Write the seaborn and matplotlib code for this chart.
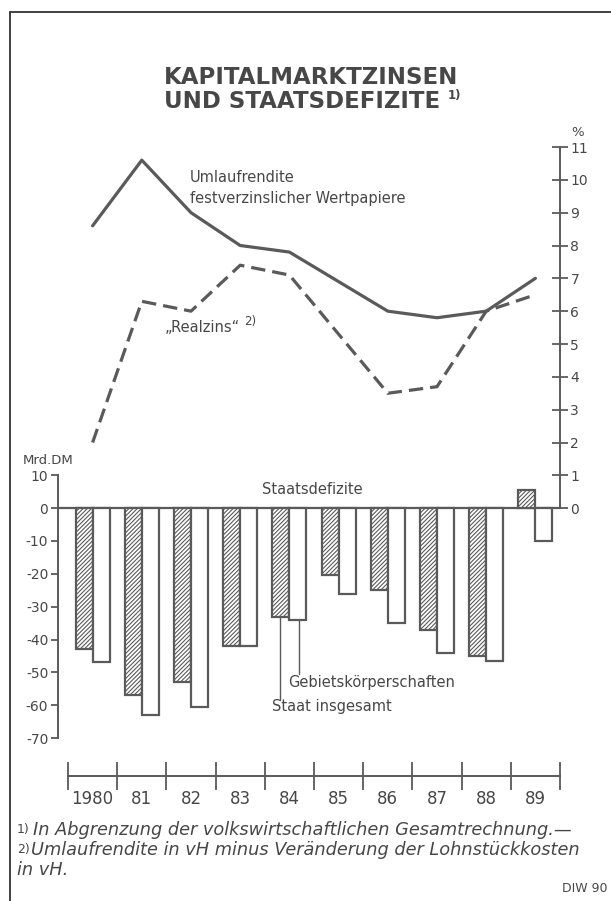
import numpy as np
import pandas as pd
import matplotlib
matplotlib.use("Agg")
import matplotlib.pyplot as plt
import seaborn as sns
from matplotlib.lines import Line2D

# ---------------- data ----------------
years = ["1980", "81", "82", "83", "84", "85", "86", "87", "88", "89"]
umlaufrendite = [8.6, 10.6, 9.0, 8.0, 7.8, 6.9, 6.0, 5.8, 6.0, 7.0]
realzins = [2.0, 6.3, 6.0, 7.4, 7.1, 5.3, 3.5, 3.7, 6.0, 6.5]
staat_insgesamt = [-43, -57, -53, -42, -33, -20.5, -25, -37, -45, 5.5]
gebietskoerperschaften = [-47, -63, -60.5, -42, -34, -26, -35, -44, -46.5, -10]
left_ticks = [-70, -60, -50, -40, -30, -20, -10, 0, 10]
right_ticks = [0, 1, 2, 3, 4, 5, 6, 7, 8, 9, 10, 11]

# ---------------- style ----------------
sns.set_style("white")
plt.rcParams["font.family"] = ["DejaVu Sans"]
plt.rcParams["hatch.linewidth"] = 0.8
GRAY = "#5a5a5a"
TXT = "#474747"

W, H = 611, 901
fig = plt.figure(figsize=(W / 100, H / 100), dpi=100)
fig.patch.set_facecolor("white")

def px_rect(x0, y0, x1, y1):
    return [x0 / W, 1 - y1 / H, (x1 - x0) / W, (y1 - y0) / H]

ax = fig.add_axes(px_rect(68, 147, 560, 738))
ax.set_facecolor("none")

df = pd.DataFrame({
    "Jahr": years * 2,
    "Reihe": ["Staat insgesamt"] * len(years) + ["Gebietskörperschaften"] * len(years),
    "Wert": staat_insgesamt + gebietskoerperschaften,
})
sns.barplot(data=df, x="Jahr", y="Wert", hue="Reihe",
            hue_order=["Staat insgesamt", "Gebietskörperschaften"],
            palette=["white", "white"], saturation=1, errorbar=None,
            width=0.69, gap=0, edgecolor=GRAY, linewidth=1.6,
            legend=False, ax=ax, zorder=3)
for bar in ax.containers[0]:
    bar.set_hatch("////////")
    bar.set_edgecolor(GRAY)

ax.set_ylim(-70, 110)
ax.set_xlim(-0.5, 9.5)
ax.set_xlabel("")
ax.set_ylabel("")

# zero line
ax.axhline(0, xmin=-10 / 492, xmax=1, color=GRAY, lw=1.6, clip_on=False, zorder=2)

# left axis
ax.spines["top"].set_visible(False)
ax.spines["right"].set_visible(False)
ax.spines["left"].set_position(("outward", 7.2))
ax.spines["left"].set_bounds(-70, 10)
ax.spines["left"].set_color(GRAY)
ax.spines["left"].set_linewidth(1.4)
ax.set_yticks(left_ticks)
ax.set_yticklabels([str(t) for t in left_ticks])
ax.tick_params(axis="y", left=True, direction="out", length=5, width=1.3, color=GRAY,
               labelsize=10, labelcolor=TXT, pad=2)

# bottom year axis
ax.spines["bottom"].set_position(("outward", 27.4))
ax.spines["bottom"].set_color(GRAY)
ax.spines["bottom"].set_linewidth(1.4)
ax.set_xticks(np.arange(-0.5, 10.0, 1.0))
ax.set_xticklabels([""] * 11)
ax.set_xticks(np.arange(len(years)), minor=True)
ax.set_xticklabels(years, minor=True)
ax.tick_params(axis="x", which="major", bottom=True, direction="inout", length=20,
               width=1.3, color=GRAY)
ax.tick_params(axis="x", which="minor", bottom=True, length=0, pad=10, labelsize=12,
               labelcolor=TXT)

# right axis with the interest-rate lines
ax2 = ax.twinx()
ax2.set_facecolor("none")
x_pos = np.arange(len(years))
sns.lineplot(x=x_pos, y=umlaufrendite, ax=ax2, color=GRAY, lw=2.3)
sns.lineplot(x=x_pos, y=realzins, ax=ax2, color=GRAY, lw=2.3, linestyle=(0, (4.5, 2.2)))
ax2.set_ylim(-7, 11)
ax2.set_xlim(-0.5, 9.5)
for s in ["left", "top", "bottom"]:
    ax2.spines[s].set_visible(False)
ax2.spines["right"].set_bounds(0, 11)
ax2.spines["right"].set_color(GRAY)
ax2.spines["right"].set_linewidth(1.4)
ax2.set_yticks(right_ticks)
ax2.set_yticklabels([str(t) for t in right_ticks])
ax2.tick_params(axis="y", right=True, direction="inout", length=11, width=1.3, color=GRAY,
                labelsize=10, labelcolor=TXT, pad=2)
ax2.set_ylabel("")

# leader lines for the bar labels (1984 bars)
b_st = ax.containers[0][4]
b_gb = ax.containers[1][4]
x_st = b_st.get_x() + b_st.get_width() * 0.45
x_gb = b_gb.get_x() + b_gb.get_width() * 0.55
ax.plot([x_st, x_st], [staat_insgesamt[4], -58.5], color=GRAY, lw=1.0, zorder=4)
ax.plot([x_gb, x_gb], [gebietskoerperschaften[4], -50.5], color=GRAY, lw=1.0, zorder=4)

# ---------------- texts ----------------
def T(x, y, s, **kw):
    kw.setdefault("color", TXT)
    kw.setdefault("va", "center")
    return fig.text(x / W, 1 - y / H, s, **kw)

T(311, 78, "KAPITALMARKTZINSEN", ha="center", fontsize=16.5, fontweight="bold")
T(302, 102, "UND STAATSDEFIZITE", ha="center", fontsize=16.5, fontweight="bold")
T(448, 96, "1)", ha="left", fontsize=8.5, fontweight="bold")

T(190, 177, "Umlaufrendite", ha="left", fontsize=10.5)
T(190, 198, "festverzinslicher Wertpapiere", ha="left", fontsize=10.5)
T(165, 327, "„Realzins“", ha="left", fontsize=10.5)
T(244, 321, "2)", ha="left", fontsize=8.5)
T(578, 133, "%", ha="center", fontsize=9.5)
T(23, 461, "Mrd.DM", ha="left", fontsize=9.5)
T(312, 490, "Staatsdefizite", ha="center", fontsize=10.5)
T(288, 682, "Gebietskörperschaften", ha="left", fontsize=10.5)
T(272, 707, "Staat insgesamt", ha="left", fontsize=10.5)

T(17, 829, "1)", ha="left", fontsize=9)
T(33, 830, "In Abgrenzung der volkswirtschaftlichen Gesamtrechnung.—", ha="left",
  fontsize=12.8, style="italic")
T(17, 849, "2)", ha="left", fontsize=9)
T(31, 850, "Umlaufrendite in vH minus Veränderung der Lohnstückkosten", ha="left",
  fontsize=12.8, style="italic")
T(17, 870, "in vH.", ha="left", fontsize=12.8, style="italic")
T(608, 889, "DIW 90", ha="right", fontsize=9)

# frame
fig.add_artist(Line2D([10 / W, 10 / W], [0, 1 - 12 / H], transform=fig.transFigure,
                      color="#333333", lw=1.3))
fig.add_artist(Line2D([10 / W, 1], [1 - 12 / H, 1 - 12 / H], transform=fig.transFigure,
                      color="#333333", lw=1.3))

fig.savefig("out.png", dpi=100, facecolor="white")
